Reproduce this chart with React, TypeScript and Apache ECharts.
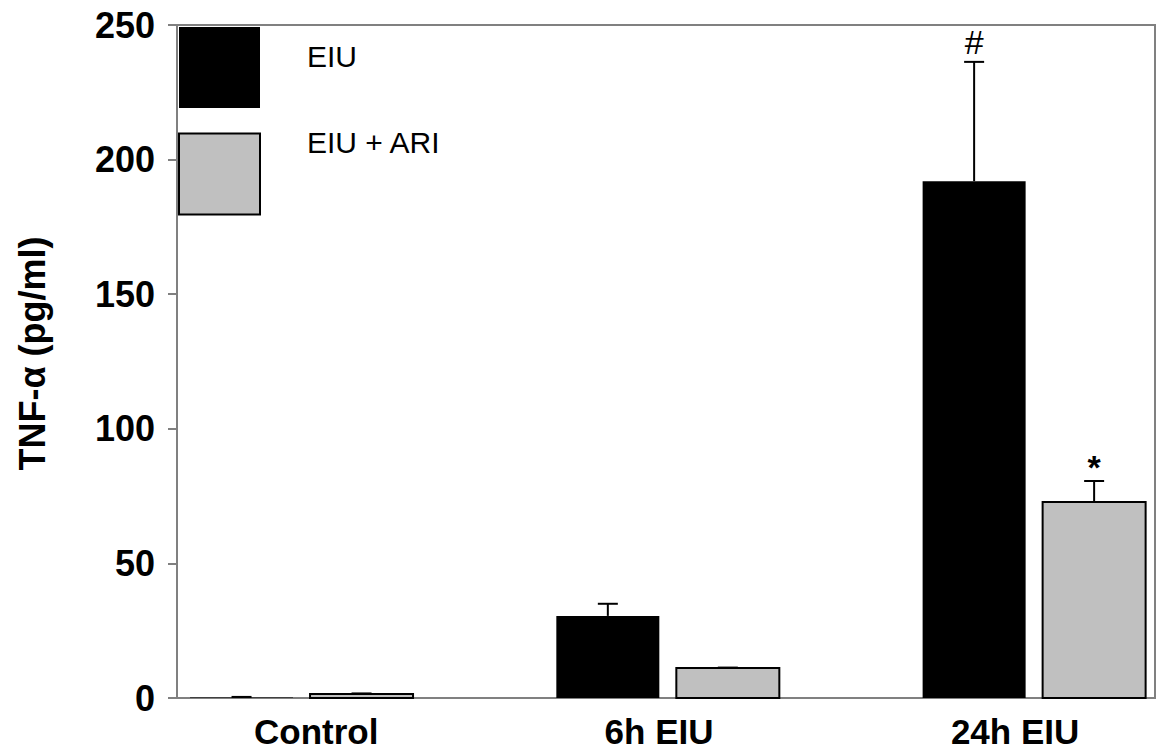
import React, { useEffect, useRef } from "react";
import * as echarts from "echarts";

const categories = ["Control", "6h EIU", "24h EIU"];
const eiuValues = [0.2, 30.5, 192.0];
const eiuErrors = [0.2, 4.5, 44.3];
const ariValues = [1.5, 11.1, 72.8];
const ariErrors = [0.2, 0.2, 7.8];
const eiuMarks = ["", "", "#"];
const ariMarks = ["", "", "*"];
const seriesNames = ["EIU", "EIU + ARI"];
const yMin = 0;
const yMax = 250;
const yInterval = 50;

const FONT = "'Liberation Sans', Arial, Helvetica, sans-serif";
const AXIS_GRAY = "#808080";
const BAR_HALF = 51.5;
const GROUP_OFFSET = 60;
const CAP_HALF = 10;
const markLift: Record<string, number> = { "#": 20, "*": 14 };

function makeRender(offsetPx: number, fill: string, stroke: string | null, marks: string[]) {
  return (params: any, api: any) => {
    const i = api.value(0);
    const v = api.value(1);
    const e = api.value(2);
    const base = api.coord([i, 0]);
    const top = api.coord([i, v]);
    const cap = api.coord([i, v + e]);
    const cx = base[0] + offsetPx;
    const children: any[] = [
      {
        type: "rect",
        shape: { x: cx - BAR_HALF, y: top[1], width: BAR_HALF * 2, height: Math.max(base[1] - top[1], 0.5) },
        style: stroke ? { fill, stroke, lineWidth: 2 } : { fill },
      },
      {
        type: "line",
        shape: { x1: cx, y1: top[1], x2: cx, y2: cap[1] },
        style: { stroke: "#000", lineWidth: 2 },
      },
      {
        type: "line",
        shape: { x1: cx - CAP_HALF, y1: cap[1], x2: cx + CAP_HALF, y2: cap[1] },
        style: { stroke: "#000", lineWidth: 2 },
      },
    ];
    const mark = marks[params.dataIndex];
    if (mark) {
      children.push({
        type: "text",
        x: cx,
        y: cap[1] - (markLift[mark] ?? 14),
        style: {
          text: mark,
          fontSize: 34,
          fontFamily: FONT,
          fontWeight: mark === "*" ? "bold" : "normal",
          fill: "#000",
          align: "center",
          verticalAlign: "middle",
        },
      });
    }
    return { type: "group", children };
  };
}

export default function App() {
  const ref = useRef<HTMLDivElement>(null);

  useEffect(() => {
    document.body.style.margin = "0";
    if (!ref.current) return;
    const chart = echarts.init(ref.current, null, { renderer: "svg" });

    const eiuData = categories.map((_, i) => [i, eiuValues[i], eiuErrors[i]]);
    const ariData = categories.map((_, i) => [i, ariValues[i], ariErrors[i]]);

    chart.setOption({
      animation: false,
      backgroundColor: "#fff",
      grid: {
        left: 177,
        right: 2,
        top: 25,
        bottom: 57,
        show: true,
        borderColor: AXIS_GRAY,
        borderWidth: 2,
        containLabel: false,
        outerBoundsMode: "none",
      },
      legend: {
        orient: "vertical",
        left: 178,
        top: 27,
        padding: 0,
        itemWidth: 81,
        itemHeight: 81,
        itemGap: 19,
        selectedMode: false,
        icon: "rect",
        data: [
          { name: seriesNames[0], itemStyle: { color: "#000", borderWidth: 0 } },
          { name: seriesNames[1], itemStyle: { color: "#c0c0c0", borderColor: "#000", borderWidth: 2 } },
        ],
        formatter: (name: string) => (name === seriesNames[0] ? `{a|${name}}` : `{b|${name}}`),
        textStyle: {
          fontFamily: FONT,
          fontSize: 30,
          color: "#000",
          rich: {
            a: { fontFamily: FONT, fontSize: 30, color: "#000", padding: [0, 0, 22, 42] },
            b: { fontFamily: FONT, fontSize: 30, color: "#000", padding: [0, 0, 64, 42] },
          },
        },
      },
      xAxis: {
        type: "value",
        min: -0.34,
        max: 2.33,
        splitLine: { show: false },
        axisTick: { show: false },
        axisLine: { show: true, onZero: false, lineStyle: { color: AXIS_GRAY, width: 2 } },
        axisLabel: {
          show: true,
          customValues: [0.04, 0.976, 1.948],
          formatter: (v: number) => categories[Math.round(v)] ?? "",
          fontFamily: FONT,
          fontSize: 35,
          fontWeight: "bold",
          color: "#000",
          margin: 16,
        },
      },
      yAxis: {
        type: "value",
        min: yMin,
        max: yMax,
        interval: yInterval,
        name: "TNF-α (pg/ml)",
        nameLocation: "middle",
        nameRotate: 90,
        nameGap: 127,
        nameTextStyle: {
          fontFamily: FONT,
          fontSize: 36,
          fontWeight: "bold",
          color: "#000",
          padding: [0, 0, 0, 16],
        },
        splitLine: { show: false },
        axisLine: { show: true, onZero: false, lineStyle: { color: AXIS_GRAY, width: 2 } },
        axisTick: { show: true, length: 9, lineStyle: { color: AXIS_GRAY, width: 2 } },
        axisLabel: {
          fontFamily: FONT,
          fontSize: 36,
          fontWeight: "bold",
          color: "#000",
          margin: 22,
        },
      },
      series: [
        {
          name: seriesNames[0],
          type: "custom",
          itemStyle: { color: "#000" },
          renderItem: makeRender(-GROUP_OFFSET, "#000", null, eiuMarks),
          encode: { x: 0, y: [1, 2] },
          data: eiuData,
          clip: false,
        },
        {
          name: seriesNames[1],
          type: "custom",
          itemStyle: { color: "#c0c0c0", borderColor: "#000", borderWidth: 2 },
          renderItem: makeRender(GROUP_OFFSET, "#c0c0c0", "#000", ariMarks),
          encode: { x: 0, y: [1, 2] },
          data: ariData,
          clip: false,
        },
      ],
    });

    return () => chart.dispose();
  }, []);

  return <div ref={ref} style={{ width: 1157, height: 755 }} />;
}
